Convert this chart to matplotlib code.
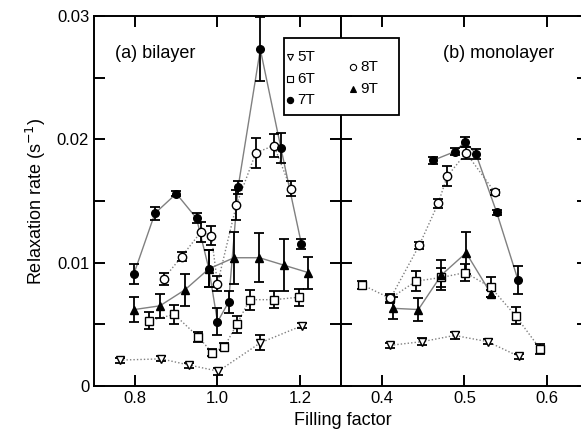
import matplotlib
matplotlib.use("Agg")
import matplotlib.pyplot as plt
from matplotlib.lines import Line2D
from matplotlib.patches import Rectangle

plt.rcParams['font.family'] = ['Liberation Sans', 'DejaVu Sans']

fields = ["5T", "6T", "7T", "8T", "9T"]

# (a) bilayer
bi_5T_x = [0.762, 0.863, 0.931, 1.002, 1.104, 1.206]
bi_5T_y = [0.0021, 0.0022, 0.0017, 0.0012, 0.0035, 0.0049]
bi_5T_e = [0.0002, 0.0002, 0.0002, 0.0003, 0.0006, 0.0002]

bi_6T_x = [0.834, 0.895, 0.953, 0.987, 1.017, 1.047, 1.078, 1.138, 1.198]
bi_6T_y = [0.0053, 0.0058, 0.0040, 0.0027, 0.0032, 0.0050, 0.0070, 0.0070, 0.0072]
bi_6T_e = [0.0007, 0.0008, 0.0004, 0.0003, 0.0003, 0.0007, 0.0008, 0.0007, 0.0007]

bi_7T_x = [0.797, 0.848, 0.900, 0.949, 0.979, 1.000, 1.027, 1.050, 1.104, 1.154, 1.204]
bi_7T_y = [0.0091, 0.0140, 0.0156, 0.0136, 0.0095, 0.0052, 0.0068, 0.0161, 0.0273, 0.0193, 0.0115]
bi_7T_e = [0.0008, 0.0005, 0.0002, 0.0004, 0.0015, 0.0011, 0.0009, 0.0005, 0.0026, 0.0012, 0.0004]

bi_8T_x = [0.869, 0.913, 0.960, 0.985, 1.000, 1.046, 1.093, 1.137, 1.178]
bi_8T_y = [0.0087, 0.0105, 0.0125, 0.0122, 0.0083, 0.0147, 0.0189, 0.0195, 0.0160]
bi_8T_e = [0.0005, 0.0004, 0.0008, 0.0008, 0.0006, 0.0012, 0.0012, 0.0009, 0.0006]

bi_9T_x = [0.798, 0.860, 0.921, 0.979, 1.040, 1.102, 1.161, 1.220]
bi_9T_y = [0.0062, 0.0065, 0.0078, 0.0095, 0.0104, 0.0104, 0.0098, 0.0092]
bi_9T_e = [0.0010, 0.0010, 0.0013, 0.0015, 0.0021, 0.0020, 0.0021, 0.0013]

# (b) monolayer
mono_5T_x = [0.410, 0.449, 0.488, 0.528, 0.566]
mono_5T_y = [0.0033, 0.0036, 0.0041, 0.0036, 0.0024]
mono_5T_e = [0.0002, 0.0003, 0.0003, 0.0002, 0.0002]

mono_6T_x = [0.376, 0.410, 0.441, 0.472, 0.501, 0.532, 0.562, 0.592]
mono_6T_y = [0.0082, 0.0071, 0.0085, 0.0088, 0.0092, 0.0080, 0.0057, 0.0030]
mono_6T_e = [0.0003, 0.0004, 0.0008, 0.0008, 0.0007, 0.0008, 0.0007, 0.0004]

mono_7T_x = [0.462, 0.488, 0.501, 0.514, 0.539, 0.565]
mono_7T_y = [0.0183, 0.0190, 0.0198, 0.0188, 0.0141, 0.0086]
mono_7T_e = [0.0003, 0.0003, 0.0004, 0.0004, 0.0002, 0.0011]

mono_8T_x = [0.410, 0.445, 0.468, 0.479, 0.502, 0.537]
mono_8T_y = [0.0071, 0.0114, 0.0148, 0.0170, 0.0189, 0.0157]
mono_8T_e = [0.0003, 0.0003, 0.0004, 0.0008, 0.0005, 0.0002]

mono_9T_x = [0.413, 0.444, 0.472, 0.502, 0.532]
mono_9T_y = [0.0063, 0.0062, 0.0090, 0.0108, 0.0075]
mono_9T_e = [0.0009, 0.0009, 0.0012, 0.0017, 0.0003]

styles = {
	"5T": dict(marker="v", mfc="white", ls=(0, (1, 1.5)), ms=6),
	"6T": dict(marker="s", mfc="white", ls=(0, (1, 1.5)), ms=6),
	"7T": dict(marker="o", mfc="black", ls="-", ms=5.5),
	"8T": dict(marker="o", mfc="white", ls=(0, (1, 1.5)), ms=6),
	"9T": dict(marker="^", mfc="black", ls="-", ms=6),
}


def draw(ax, data):
	for name, (x, y, e) in data.items():
		st = styles[name]
		ax.plot(x, y, color="#808080", lw=1.0, ls=st["ls"], zorder=1)
		ax.errorbar(x, y, yerr=e, fmt="none", ecolor="black", elinewidth=1.3,
			capsize=3.5, capthick=1.3, zorder=2)
		ax.plot(x, y, ls="none", marker=st["marker"], ms=st["ms"],
			mfc=st["mfc"], mec="black", mew=1.0, zorder=3)


def style_axis(ax):
	ax.set_ylim(0, 0.03)
	ax.set_yticks([0, 0.01, 0.02, 0.03])
	ax.set_yticks([0.005, 0.015, 0.025], minor=True)
	ax.tick_params(which="both", direction="in", top=True, right=True,
		length=8, width=1.4, labelsize=12)
	for s in ax.spines.values():
		s.set_linewidth(1.4)


def main():
	fig = plt.figure(figsize=(5.81, 4.34), dpi=100)
	axA = fig.add_axes([0.1618, 0.1106, 0.4251, 0.8525])
	axB = fig.add_axes([0.5869, 0.1106, 0.4251, 0.8525])

	draw(axA, {
		"5T": (bi_5T_x, bi_5T_y, bi_5T_e),
		"6T": (bi_6T_x, bi_6T_y, bi_6T_e),
		"9T": (bi_9T_x, bi_9T_y, bi_9T_e),
		"8T": (bi_8T_x, bi_8T_y, bi_8T_e),
		"7T": (bi_7T_x, bi_7T_y, bi_7T_e),
	})
	draw(axB, {
		"5T": (mono_5T_x, mono_5T_y, mono_5T_e),
		"6T": (mono_6T_x, mono_6T_y, mono_6T_e),
		"9T": (mono_9T_x, mono_9T_y, mono_9T_e),
		"8T": (mono_8T_x, mono_8T_y, mono_8T_e),
		"7T": (mono_7T_x, mono_7T_y, mono_7T_e),
	})

	style_axis(axA)
	style_axis(axB)
	axA.set_xlim(0.7, 1.3)
	axA.set_xticks([0.8, 1.0, 1.2])
	axA.set_xticklabels(["0.8", "1.0", "1.2"])
	axA.set_yticklabels(["0", "0.01", "0.02", "0.03"])
	axB.set_xlim(0.35, 0.65)
	axB.set_xticks([0.4, 0.5, 0.6])
	axB.set_xticklabels(["0.4", "0.5", "0.6"])
	axB.tick_params(labelleft=False)

	axA.set_ylabel("Relaxation rate (s$^{-1}$)", fontsize=13, labelpad=6)
	fig.text(0.59, 0.03, "Filling factor", fontsize=13, ha="center", va="center")
	axA.text(115 / 581, 1 - 53 / 434, "(a) bilayer", transform=fig.transFigure,
		fontsize=13, va="center")
	axB.text(443 / 581, 1 - 53 / 434, "(b) monolayer", transform=fig.transFigure,
		fontsize=13, va="center")

	# legend box drawn by hand (two offset columns)
	fig.add_artist(Rectangle((284 / 581, 1 - 115 / 434), 115 / 581, 77 / 434,
		transform=fig.transFigure, fill=True, fc="white", ec="black", lw=1.3, zorder=5))
	spots = {"5T": (290, 57), "6T": (290, 79), "7T": (290, 100),
		"8T": (353, 67), "9T": (353, 89)}
	for name in fields:
		px, py = spots[name]
		st = styles[name]
		fig.add_artist(Line2D([px / 581], [1 - py / 434], transform=fig.transFigure,
			ls="none", marker=st["marker"], ms=4.5, mfc=st["mfc"], mec="black",
			mew=0.8, zorder=6))
		fig.text((px + 7) / 581, 1 - py / 434, name, fontsize=11, va="center", zorder=6)

	plt.savefig("out.png", dpi=100)


if __name__ == '__main__':
	main()
